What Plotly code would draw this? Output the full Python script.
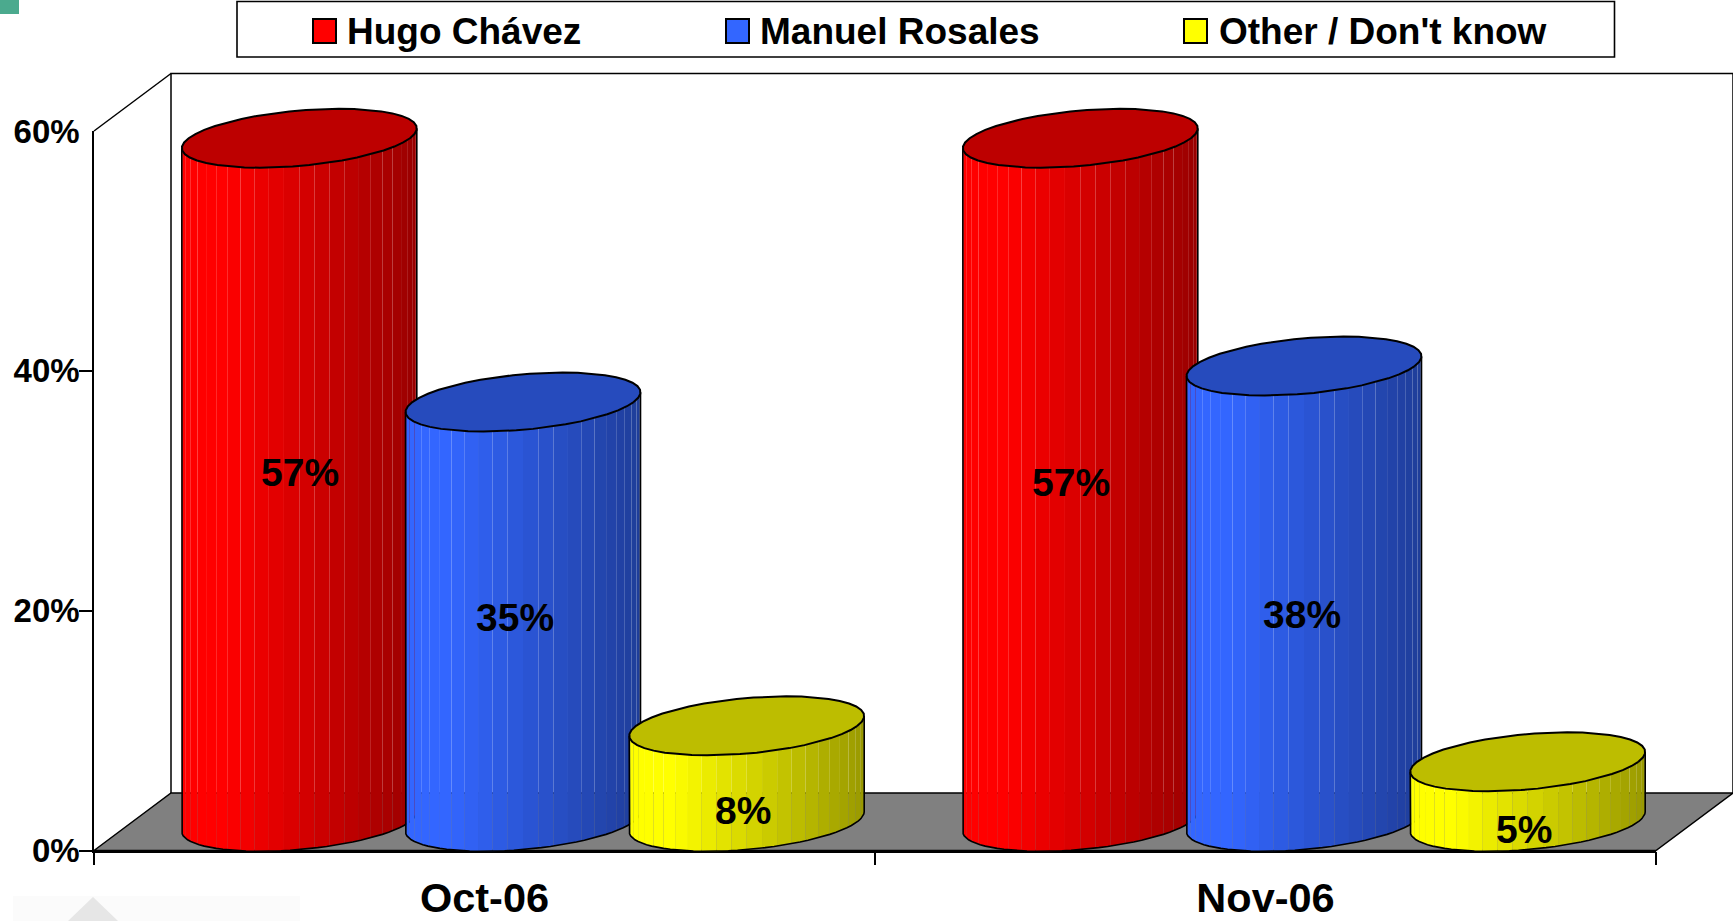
import math
import plotly.graph_objects as go

# ---------- data ----------
months = ["Oct-06", "Nov-06"]
series_names = ["Hugo Chávez", "Manuel Rosales", "Other / Don't know"]
hugo_chavez = [57, 57]
manuel_rosales = [35, 38]
other_dont_know = [8, 5]
y_ticks = [0, 20, 40, 60]
y_tick_labels = ["0%", "20%", "40%", "60%"]
y_tick_marks = [0, 20, 40]

# ---------- styling ----------
W, H = 1733, 921
FONT = "Liberation Sans, Arial, sans-serif"
X0, X_END, Y0, Y60 = 94.0, 1656.0, 850.5, 131.0      # front frame, px
PX_CAT = (X_END - X0) / len(months)
PX_PCT = (Y0 - Y60) / 60.0
DEPTH_X = 77.0 / PX_CAT          # wall depth in category units
DEPTH_Y = 57.5 / PX_PCT          # wall depth in percent units
BAR_STEP = 223.7 / PX_CAT        # bar spacing
BAR_R = 117.5 / PX_CAT           # half visible width of a cylinder
ELL_DX = 39.5 / PX_CAT           # depth axis of the ellipse
ELL_DY = 29.5 / PX_PCT
RX = math.sqrt(BAR_R ** 2 - ELL_DX ** 2)
T_STAR = math.atan2(ELL_DX, RX)

BASE_COLOURS = [(255, 0, 0), (51, 102, 255), (255, 255, 0)]
STRIPS = 24
OUTLINE = 1.6
TOP_OUTLINE = 2.0


def shade(rgb, k):
    return "rgb(%d,%d,%d)" % tuple(round(c * k) for c in rgb)


def ellipse_point(cx, cy, t):
    return cx + RX * math.cos(t) + ELL_DX * math.sin(t), cy + ELL_DY * math.sin(t)


def brightness(frac):
    return 1.0 if frac < 0.18 else 1.0 - 0.4 * (frac - 0.18) / 0.82


fig = go.Figure()
MARKS = dict(xaxis="x2", yaxis="y2", hoverinfo="skip", showlegend=False)


def add_line(xs, ys, width=1.5, colour="black", fill=None, fillcolor=None):
    fig.add_trace(go.Scatter(x=xs, y=ys, mode="lines", fill=fill, fillcolor=fillcolor,
                             line=dict(color=colour, width=width), **MARKS))


# ---------- box: back wall and floor ----------
n = len(months)
add_line([0, DEPTH_X], [60, 60 + DEPTH_Y])
add_line([DEPTH_X, DEPTH_X, n + DEPTH_X, n + DEPTH_X],
         [DEPTH_Y, 60 + DEPTH_Y, 60 + DEPTH_Y, DEPTH_Y])
add_line([0, n, n + DEPTH_X, DEPTH_X, 0], [0, 0, DEPTH_Y, DEPTH_Y, 0],
         fill="toself", fillcolor="#808080")

# ---------- cylinders ----------
all_values = [hugo_chavez, manuel_rosales, other_dont_know]
for m in range(n):
    centre = m + 0.5 + DEPTH_X / 2
    for s, values in enumerate(all_values):
        v = values[m]
        cx = centre + (s - 1) * BAR_STEP
        top = v + DEPTH_Y / 2
        bot = DEPTH_Y / 2
        rgb = BASE_COLOURS[s]
        # side facets
        for i in range(STRIPS):
            t1 = T_STAR - math.pi + math.pi * i / STRIPS
            t2 = T_STAR - math.pi + math.pi * (i + 1) / STRIPS
            xa, ya = ellipse_point(cx, bot, t1)
            xb, yb = ellipse_point(cx, bot, t2)
            xc, yc = ellipse_point(cx, top, t2)
            xd, yd = ellipse_point(cx, top, t1)
            frac = ((xa + xb) / 2 - (cx - BAR_R)) / (2 * BAR_R)
            fig.add_trace(go.Scatter(x=[xa, xb, xc, xd, xa], y=[ya, yb, yc, yd, ya],
                                     mode="none", fill="toself",
                                     fillcolor=shade(rgb, brightness(frac)), **MARKS))
        # side outline
        arc = [ellipse_point(cx, bot, T_STAR - math.pi + math.pi * i / 40) for i in range(41)]
        xl, yl = ellipse_point(cx, top, T_STAR - math.pi)
        xr, yr = ellipse_point(cx, top, T_STAR)
        add_line([xl] + [p[0] for p in arc] + [xr], [yl] + [p[1] for p in arc] + [yr], OUTLINE)
        # top face
        ring = [ellipse_point(cx, top, 2 * math.pi * i / 44) for i in range(45)]
        add_line([p[0] for p in ring], [p[1] for p in ring], TOP_OUTLINE,
                 fill="toself", fillcolor=shade(rgb, 0.74))

# ---------- value labels ----------
label_shift_px = [[(1, -7), (-8, 6), (-4, 37)], [(-9, 3), (-2, 21), (-4, 38)]]
for m in range(n):
    centre = m + 0.5 + DEPTH_X / 2
    for s, values in enumerate(all_values):
        v = values[m]
        dx, dy = label_shift_px[m][s]
        fig.add_annotation(xref="x2", yref="y2", x=centre + (s - 1) * BAR_STEP,
                           y=v / 2 + DEPTH_Y / 2, text="%d%%" % v, showarrow=False,
                           xshift=dx, yshift=-dy,
                           font=dict(family=FONT, size=39, color="black", weight="bold"))

# ---------- hand-placed legend ----------
legend_swatch_x = [313, 726, 1184]
legend_text_x = [345, 758, 1217]
px_x = lambda p: p / W
px_y = lambda p: 1 - p / H
shapes = [
    dict(type="rect", xref="paper", yref="paper", x0=px_x(237), x1=px_x(1614.5), y0=px_y(57),
         y1=px_y(1.5), line=dict(color="black", width=1.6), fillcolor="white", layer="below"),
    dict(type="rect", xref="paper", yref="paper", x0=0, x1=px_x(19), y0=px_y(14), y1=1,
         line=dict(width=0), fillcolor="#4BAA8E", layer="below"),
    dict(type="rect", xref="paper", yref="paper", x0=px_x(13), x1=px_x(300), y0=0, y1=px_y(896),
         line=dict(width=0), fillcolor="#FBFBFB", layer="below"),
    dict(type="path", xref="paper", yref="paper",
         path="M %f,%f L %f,%f L %f,%f Z" % (px_x(93), px_y(897), px_x(118), 0, px_x(68), 0),
         line=dict(width=0), fillcolor="#E6E6E6", layer="below"),
]
for s, name in enumerate(series_names):
    shapes.append(dict(type="rect", xref="paper", yref="paper",
                       x0=px_x(legend_swatch_x[s]), x1=px_x(legend_swatch_x[s] + 23),
                       y0=px_y(43), y1=px_y(19), line=dict(color="black", width=2),
                       fillcolor=shade(BASE_COLOURS[s], 1.0)))
    fig.add_annotation(xref="paper", yref="paper", x=px_x(legend_text_x[s]), y=px_y(31),
                       text=name, showarrow=False, xanchor="left", yanchor="middle",
                       font=dict(family=FONT, size=37, color="black", weight="bold"))

# ---------- native axes + invisible whole-page axes that carry the marks ----------
fig.add_trace(go.Scatter(x=[0, 2], y=[0, 60], mode="none", hoverinfo="skip", showlegend=False))
fig.update_layout(
    width=W, height=H, margin=dict(l=0, r=0, t=0, b=0, autoexpand=False),
    paper_bgcolor="white", plot_bgcolor="rgba(0,0,0,0)", showlegend=False, shapes=shapes,
    xaxis=dict(domain=[X0 / W, X_END / W], range=[0, n], anchor="y",
               tickvals=[i + 0.5 for i in range(n)], ticktext=months, ticks="outside", ticklen=0,
               ticklabelstandoff=10, tickfont=dict(family=FONT, size=41.5, color="black", weight="bold"),
               showline=True, linecolor="black", linewidth=1.6, showgrid=False, zeroline=False,
               minor=dict(tickvals=list(range(n + 1)), ticks="outside", ticklen=13, tickcolor="black",
                          tickwidth=1.5, showgrid=False)),
    yaxis=dict(domain=[(H - Y0) / H, (H - Y60) / H], range=[0, 60], anchor="x",
               tickvals=y_ticks, ticktext=y_tick_labels, ticks="outside", ticklen=0,
               ticklabelstandoff=6, tickfont=dict(family=FONT, size=33, color="black", weight="bold"),
               showline=True, linecolor="black", linewidth=1.6, showgrid=False, zeroline=False,
               minor=dict(tickvals=y_tick_marks, ticks="outside", ticklen=13, tickcolor="black",
                          tickwidth=1.5, showgrid=False)),
    xaxis2=dict(domain=[0, 1], range=[-X0 / PX_CAT, (W - X0) / PX_CAT], anchor="y2", visible=False),
    yaxis2=dict(domain=[0, 1], range=[(Y0 - H) / PX_PCT, Y0 / PX_PCT], anchor="x2", visible=False),
)
fig.write_html("out.html", config=dict(displayModeBar=False),
               post_script="document.body.style.margin='0';document.documentElement.style.overflow='hidden';")
